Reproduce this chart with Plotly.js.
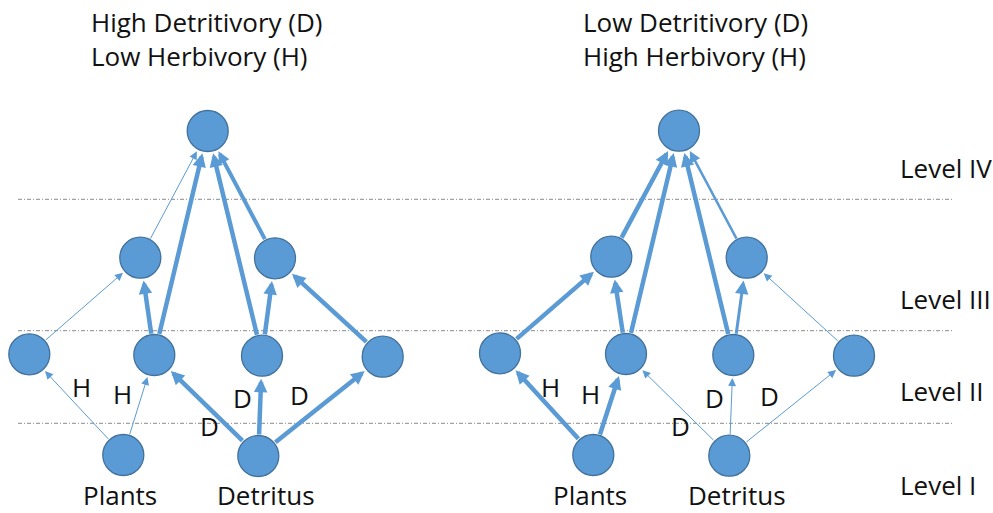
<!DOCTYPE html>
<html>
<head>
<meta charset="utf-8">
<script src="https://cdn.plot.ly/plotly-3.0.1.min.js"></script>
<style>html,body{margin:0;padding:0;background:#fff;}#chart{width:993px;height:513px;}</style>
</head>
<body>
<div id="chart"></div>
<script>
// ---- data ----
const nodeIds = ["top", "IIIa", "IIIb", "IIa", "IIb", "IIc", "IId", "plants", "detritus"];
const leftNodeX  = [207.7, 140.3, 275.0, 29.3, 154.3, 262.0, 382.7, 123.3, 258.3];
const leftNodeY  = [131.0, 257.7, 258.3, 354.3, 355.0, 355.7, 356.7, 455.0, 456.0];
const rightNodeX = [679.0, 611.3, 746.7, 500.0, 626.0, 733.3, 854.0, 593.3, 729.3];
const rightNodeY = [130.7, 256.7, 257.7, 353.3, 354.0, 355.0, 355.7, 455.0, 455.7];

const edgeFrom = ["IIIa", "IIb", "IIc", "IIIb", "IIa", "IIb", "IIc", "IId", "plants", "plants", "detritus", "detritus", "detritus"];
const edgeTo   = ["top", "top", "top", "top", "IIIa", "IIIa", "IIIb", "IIIb", "IIa", "IIb", "IIb", "IIc", "IId"];
// flow strength (line width class)
const leftEdgeStrength  = [1, 4.5, 4.5, 4, 1, 4.5, 4.5, 4.5, 1, 1, 4.5, 4.5, 4.5];
const rightEdgeStrength = [4.5, 4.5, 4.5, 2.5, 4.5, 4.5, 3, 1, 4.5, 4.5, 1, 1, 1];

const leftTitle  = ["High Detritivory (D)", "Low Herbivory (H)"];
const rightTitle = ["Low Detritivory (D)", "High Herbivory (H)"];
const baseLabels = ["Plants", "Detritus"];
const levelLabels = ["Level IV", "Level III", "Level II", "Level I"];
const levelLabelY = [168, 299, 391, 485];
const levelLineY = [199.3, 330.7, 423.3];

const flowLabels = ["H", "H", "D", "D", "D"];
const leftFlowX  = [81.7, 122.7, 242.3, 299.3, 209.3];
const leftFlowY  = [386.7, 394.0, 398.0, 395.0, 426.0];
const rightFlowX = [550.0, 590.7, 714.3, 769.3, 680.0];
const rightFlowY = [386.7, 394.0, 398.0, 396.0, 426.0];

// ---- styles ----
const BLUE = "#5B9BD5";
const EDGE = "#41719C";
const FONT = "'Open Sans', sans-serif";
const FS = 26;
const R = 20;

const annotations = [];
const shapes = [];

function addPanel(nx, ny, strengths, title, titleX, flowX, flowY) {
  const idx = id => nodeIds.indexOf(id);
  edgeFrom.forEach((f, i) => {
    const a = idx(f), b = idx(edgeTo[i]);
    const w = strengths[i];
    annotations.push({
      x: nx[b], y: ny[b], ax: nx[a], ay: ny[a],
      xref: "x", yref: "y", axref: "x", ayref: "y",
      showarrow: true, arrowhead: 2, arrowcolor: BLUE,
      arrowwidth: w, arrowsize: w <= 1 ? 1.6 : (w < 3.5 ? 0.9 : 0.6),
      standoff: R + 3, startstandoff: R, text: ""
    });
  });
  annotations.push({
    x: titleX, y: 39, xref: "x", yref: "y", text: title.join("<br>"), showarrow: false,
    xanchor: "left", yanchor: "middle", align: "left",
    font: {family: FONT, size: FS, color: "#111"}
  });
  baseLabels.forEach((t, i) => {
    annotations.push({
      x: nx[idx(i === 0 ? "plants" : "detritus")] + (i === 0 ? -3 : 8), y: 495,
      xref: "x", yref: "y", text: t, showarrow: false,
      xanchor: "center", yanchor: "middle", font: {family: FONT, size: FS, color: "#111"}
    });
  });
  flowLabels.forEach((t, i) => {
    annotations.push({
      x: flowX[i], y: flowY[i], xref: "x", yref: "y", text: t, showarrow: false,
      xanchor: "center", yanchor: "middle", font: {family: FONT, size: FS, color: "#111"}
    });
  });
}

addPanel(leftNodeX, leftNodeY, leftEdgeStrength, leftTitle, 89, leftFlowX, leftFlowY);
addPanel(rightNodeX, rightNodeY, rightEdgeStrength, rightTitle, 581, rightFlowX, rightFlowY);

levelLabels.forEach((t, i) => {
  annotations.push({
    x: 898, y: levelLabelY[i], xref: "x", yref: "y", text: t, showarrow: false,
    xanchor: "left", yanchor: "middle", font: {family: FONT, size: FS, color: "#111"}
  });
});

levelLineY.forEach(y => {
  shapes.push({
    type: "line", xref: "x", yref: "y", x0: 18, x1: 953, y0: y, y1: y,
    line: {color: "#8a8a8a", width: 1, dash: "4px,2px,1px,2px"}, layer: "below"
  });
});

const traces = [
  {x: leftNodeX, y: leftNodeY, text: nodeIds},
  {x: rightNodeX, y: rightNodeY, text: nodeIds}
].map(d => ({
  x: d.x, y: d.y, text: d.text, type: "scatter", mode: "markers", hoverinfo: "none",
  marker: {size: 2 * R + 1, color: BLUE, line: {color: EDGE, width: 1.3}}
}));

const layout = {
  width: 993, height: 513,
  margin: {l: 0, r: 0, t: 0, b: 0},
  paper_bgcolor: "#fff", plot_bgcolor: "#fff",
  showlegend: false,
  xaxis: {range: [0, 993], visible: false, fixedrange: true},
  yaxis: {range: [513, 0], visible: false, fixedrange: true},
  annotations: annotations,
  shapes: shapes
};

Plotly.newPlot("chart", traces, layout, {displayModeBar: false, staticPlot: true});
</script>
</body>
</html>
